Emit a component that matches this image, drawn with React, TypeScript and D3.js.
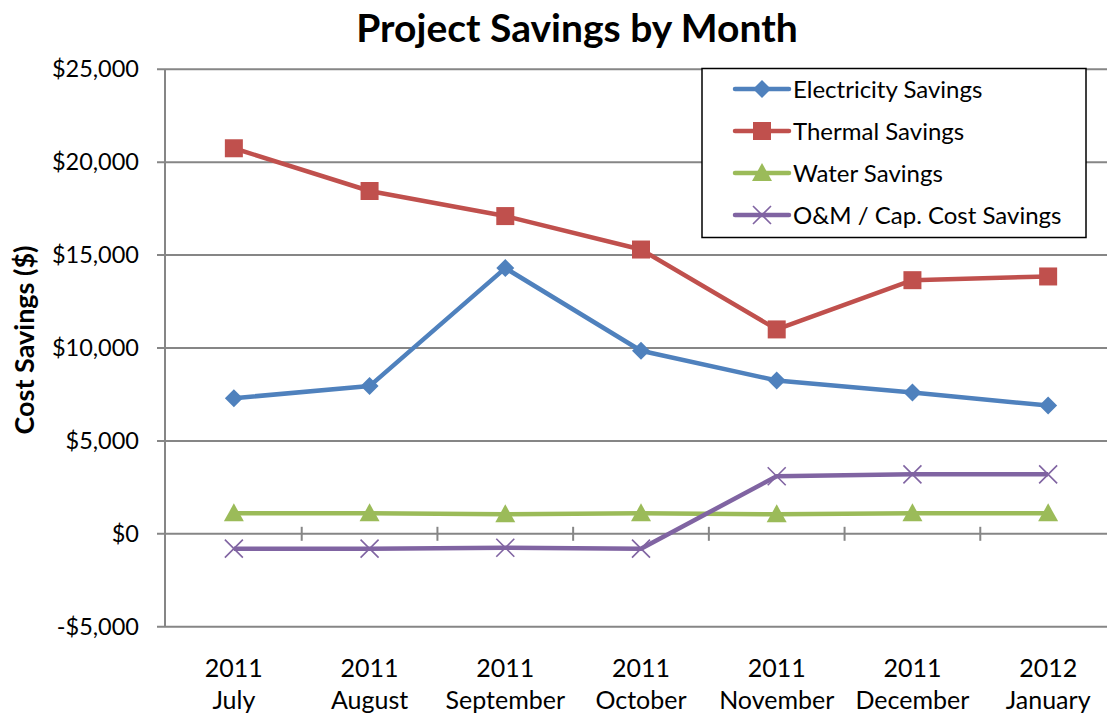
import React from "react";
import * as d3 from "d3";

const categories = ["2011|July", "2011|August", "2011|September", "2011|October", "2011|November", "2011|December", "2012|January"];
const electricity = [7300, 7950, 14300, 9850, 8250, 7600, 6900];
const thermal = [20750, 18450, 17100, 15300, 11000, 13650, 13850];
const water = [1100, 1100, 1050, 1100, 1050, 1100, 1100];
const omCap = [-800, -800, -750, -800, 3100, 3200, 3200];
const yTicks = [-5000, 0, 5000, 10000, 15000, 20000, 25000];

const seriesNames = ["Electricity Savings", "Thermal Savings", "Water Savings", "O&M / Cap. Cost Savings"];
const seriesColors = ["#4F81BD", "#C0504D", "#9BBB59", "#8064A2"];
const seriesData = [electricity, thermal, water, omCap];
const markers = ["diamond", "square", "triangle", "x"];

const FONT = "Lato, 'Open Sans', sans-serif";

function Marker({ type, x, y, color }: { type: string; x: number; y: number; color: string }) {
  if (type === "diamond") {
    const s = 9;
    return <path d={`M${x},${y - s}L${x + s},${y}L${x},${y + s}L${x - s},${y}Z`} fill={color} />;
  }
  if (type === "square") {
    const s = 9;
    return <rect x={x - s} y={y - s} width={2 * s} height={2 * s} fill={color} />;
  }
  if (type === "triangle") {
    const s = 10;
    return <path d={`M${x},${y - s}L${x + s},${y + 8}L${x - s},${y + 8}Z`} fill={color} />;
  }
  const s = 9;
  return (
    <path d={`M${x - s},${y - s}L${x + s},${y + s}M${x - s},${y + s}L${x + s},${y - s}`} stroke={color} strokeWidth={1.6} fill="none" />
  );
}

export default function App() {
  const width = 1107;
  const height = 713;
  const x = d3.scaleBand<string>().domain(categories).range([166, 1116]).padding(0);
  const y = d3.scaleLinear().domain([-5000, 25000]).range([626.7, 69.3]);
  const cx = (c: string) => (x(c) as number) + x.bandwidth() / 2;
  const line = d3
    .line<number>()
    .x((_, i) => cx(categories[i]))
    .y((d) => y(d));
  const fmt = (v: number) => (v < 0 ? "-$" : "$") + d3.format(",")(Math.abs(v));
  const grid = "#868686";

  return (
    <svg width={width} height={height} style={{ position: "absolute", left: 0, top: 0, background: "#fff" }} fontFamily={FONT}>
      <rect width={width} height={height} fill="#fff" />
      <text x={577} y={42} textAnchor="middle" fontSize={39} fontWeight="bold" fill="#000">
        Project Savings by Month
      </text>
      {/* gridlines */}
      {yTicks.map((t) => (
        <g key={t}>
          <line x1={157} x2={1116} y1={y(t)} y2={y(t)} stroke={grid} strokeWidth={2} />
          <text x={139} y={y(t) + 8} textAnchor="end" fontSize={23.5} fill="#000">
            {fmt(t)}
          </text>
        </g>
      ))}
      <line x1={165} x2={165} y1={y(25000)} y2={y(-5000)} stroke={grid} strokeWidth={2} />
      {/* category tick marks on zero line */}
      {categories.slice(1).map((c) => (
        <line key={c} x1={x(c) as number} x2={x(c) as number} y1={y(0) - 7} y2={y(0) + 7} stroke={grid} strokeWidth={2} />
      ))}
      {/* category labels */}
      {categories.map((c) => {
        const [yr, mo] = c.split("|");
        return (
          <text key={c} x={cx(c)} textAnchor="middle" fontSize={25} fill="#000">
            <tspan x={cx(c)} y={677}>{yr}</tspan>
            <tspan x={cx(c)} y={709}>{mo}</tspan>
          </text>
        );
      })}
      <text transform={`translate(34,340) rotate(-90)`} textAnchor="middle" fontSize={27} fontWeight="bold" fill="#000">
        Cost Savings ($)
      </text>
      {/* series */}
      {seriesData.map((data, si) => (
        <g key={si}>
          <path d={line(data) || ""} fill="none" stroke={seriesColors[si]} strokeWidth={4.5} strokeLinejoin="round" />
          {data.map((v, i) => (
            <Marker key={i} type={markers[si]} x={cx(categories[i])} y={y(v)} color={seriesColors[si]} />
          ))}
        </g>
      ))}
      {/* legend */}
      <rect x={702} y={68.5} width={384} height={169} fill="#fff" stroke="#000" strokeWidth={1.5} />
      {seriesNames.map((n, i) => {
        const ly = 89 + i * 42;
        return (
          <g key={n}>
            <line x1={735} x2={789} y1={ly} y2={ly} stroke={seriesColors[i]} strokeWidth={4.5} strokeLinecap="round" />
            <Marker type={markers[i]} x={762} y={ly} color={seriesColors[i]} />
            <text x={793} y={ly + 8.5} fontSize={24} fill="#000">
              {n}
            </text>
          </g>
        );
      })}
    </svg>
  );
}
